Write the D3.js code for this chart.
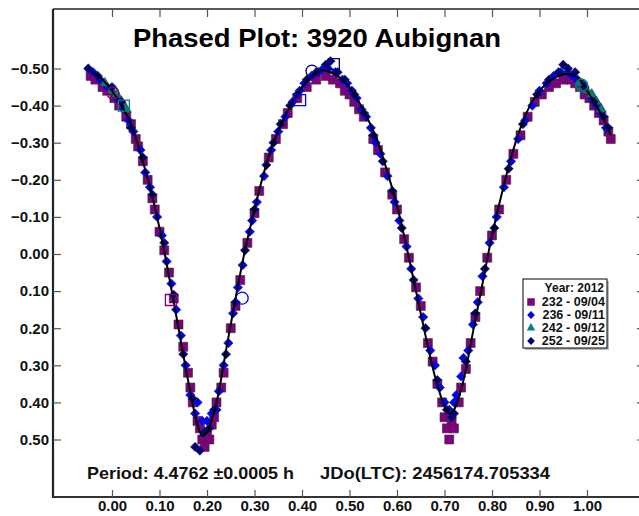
<!DOCTYPE html>
<html><head><meta charset="utf-8">
<script src="https://cdn.jsdelivr.net/npm/d3@7"></script>
<style>
html,body{margin:0;padding:0;background:#fff;}
svg{display:block;font-family:"Liberation Sans",Arial,sans-serif;}
</style></head>
<body>
<svg id="chart" width="639" height="516"></svg>
<script>
const titleText = "Phased Plot: 3920 Aubignan";
const periodText = "Period: 4.4762 \u00b10.0005 h";
const epochText = "JDo(LTC): 2456174.705334";
const xTicks = [0.0,0.1,0.2,0.3,0.4,0.5,0.6,0.7,0.8,0.9,1.0];
const yTicks = [-0.5,-0.4,-0.3,-0.2,-0.1,0.0,0.1,0.2,0.3,0.4,0.5];
const legendTitle = "Year: 2012";
const seriesNames = ["232 - 09/04","236 - 09/11","242 - 09/12","252 - 09/25"];

// fitted Fourier curve: [phase, mag]
const fitCurve = [[-0.045,-0.495],[-0.04,-0.49],[-0.02,-0.47],[0.00,-0.44],[0.02,-0.40],[0.04,-0.35],[0.06,-0.27],[0.08,-0.18],[0.10,-0.07],[0.12,0.06],[0.14,0.20],[0.16,0.34],[0.18,0.46],[0.19,0.49],[0.20,0.48],[0.22,0.40],[0.24,0.26],[0.26,0.12],[0.28,-0.01],[0.30,-0.12],[0.32,-0.22],[0.34,-0.30],[0.36,-0.36],[0.38,-0.41],[0.40,-0.45],[0.42,-0.48],[0.44,-0.495],[0.46,-0.49],[0.48,-0.475],[0.50,-0.45],[0.52,-0.41],[0.54,-0.36],[0.56,-0.30],[0.58,-0.22],[0.60,-0.13],[0.62,-0.02],[0.64,0.10],[0.66,0.22],[0.68,0.33],[0.70,0.41],[0.71,0.43],[0.72,0.42],[0.74,0.34],[0.76,0.21],[0.78,0.08],[0.80,-0.05],[0.82,-0.16],[0.84,-0.26],[0.86,-0.34],[0.88,-0.40],[0.90,-0.44],[0.92,-0.465],[0.94,-0.48],[0.96,-0.485],[0.98,-0.475],[1.00,-0.44],[1.02,-0.40],[1.04,-0.35],[1.05,-0.32]];

// session 232 - 09/04
const s232 = [[-0.045,-0.48],[-0.035,-0.47],[-0.02,-0.45],[-0.01,-0.44],[0.005,-0.42],[0.015,-0.40],[0.03,-0.37],[0.04,-0.35],[0.05,-0.31],[0.055,-0.29],[0.065,-0.25],[0.075,-0.20],[0.085,-0.15],[0.09,-0.12],[0.10,-0.06],[0.11,-0.01],[0.12,0.05],[0.13,0.12],[0.14,0.19],[0.15,0.25],[0.16,0.32],[0.165,0.36],[0.17,0.40],[0.18,0.45],[0.185,0.47],[0.19,0.50],[0.195,0.52],[0.20,0.48],[0.205,0.50],[0.21,0.46],[0.215,0.44],[0.22,0.40],[0.23,0.36],[0.235,0.32],[0.25,0.20],[0.26,0.14],[0.27,0.07],[0.285,-0.03],[0.30,-0.11],[0.31,-0.17],[0.33,-0.26],[0.345,-0.31],[0.36,-0.35],[0.37,-0.38],[0.39,-0.42],[0.41,-0.45],[0.43,-0.47],[0.45,-0.48],[0.465,-0.47],[0.48,-0.46],[0.49,-0.44],[0.50,-0.43],[0.51,-0.41],[0.52,-0.39],[0.53,-0.37],[0.55,-0.31],[0.56,-0.28],[0.575,-0.22],[0.59,-0.16],[0.60,-0.12],[0.615,-0.04],[0.625,0.01],[0.64,0.09],[0.65,0.14],[0.665,0.24],[0.675,0.29],[0.685,0.35],[0.695,0.40],[0.70,0.44],[0.705,0.47],[0.71,0.50],[0.715,0.45],[0.72,0.47],[0.73,0.40],[0.735,0.36],[0.745,0.31],[0.755,0.24],[0.765,0.17],[0.775,0.10],[0.79,0.01],[0.80,-0.05],[0.815,-0.12],[0.83,-0.20],[0.845,-0.27],[0.86,-0.32],[0.875,-0.37],[0.89,-0.41],[0.905,-0.43],[0.92,-0.45],[0.935,-0.46],[0.95,-0.47],[0.965,-0.47],[0.975,-0.46],[0.985,-0.45],[0.995,-0.43],[1.005,-0.42],[1.015,-0.40],[1.025,-0.38],[1.035,-0.36],[1.045,-0.33],[1.05,-0.31]];

// session 236 - 09/11
const s236 = [[-0.04,-0.49],[-0.025,-0.47],[-0.01,-0.45],[0.01,-0.42],[0.025,-0.39],[0.035,-0.36],[0.045,-0.33],[0.06,-0.28],[0.07,-0.22],[0.08,-0.18],[0.095,-0.10],[0.105,-0.05],[0.115,0.02],[0.125,0.08],[0.135,0.15],[0.145,0.22],[0.155,0.30],[0.165,0.38],[0.175,0.43],[0.18,0.40],[0.19,0.45],[0.20,0.45],[0.21,0.43],[0.22,0.42],[0.225,0.37],[0.235,0.30],[0.245,0.24],[0.255,0.16],[0.265,0.09],[0.275,0.03],[0.29,-0.06],[0.295,-0.09],[0.305,-0.14],[0.32,-0.21],[0.335,-0.28],[0.35,-0.33],[0.365,-0.37],[0.38,-0.41],[0.395,-0.44],[0.405,-0.46],[0.42,-0.48],[0.435,-0.49],[0.445,-0.50],[0.455,-0.50],[0.47,-0.49],[0.485,-0.47],[0.495,-0.46],[0.505,-0.44],[0.515,-0.42],[0.525,-0.39],[0.535,-0.37],[0.545,-0.34],[0.555,-0.30],[0.565,-0.27],[0.58,-0.21],[0.595,-0.14],[0.605,-0.09],[0.62,-0.02],[0.63,0.04],[0.645,0.12],[0.655,0.17],[0.67,0.26],[0.68,0.30],[0.69,0.36],[0.70,0.40],[0.71,0.42],[0.72,0.40],[0.725,0.38],[0.735,0.33],[0.74,0.28],[0.75,0.26],[0.76,0.19],[0.77,0.13],[0.78,0.06],[0.795,-0.03],[0.81,-0.10],[0.825,-0.18],[0.84,-0.25],[0.855,-0.31],[0.87,-0.36],[0.885,-0.40],[0.90,-0.44],[0.915,-0.46],[0.93,-0.48],[0.945,-0.49],[0.96,-0.49],[0.97,-0.48],[0.98,-0.47],[0.99,-0.46],[1.01,-0.42],[1.02,-0.40],[1.03,-0.38],[1.04,-0.34]];

// session 242 - 09/12
const s242 = [[-0.015,-0.46],[0.0,-0.44],[0.01,-0.43],[0.02,-0.41],[0.03,-0.39],[0.985,-0.46],[0.99,-0.45],[1.0,-0.44],[1.01,-0.43],[1.02,-0.41],[1.03,-0.39]];

// session 252 - 09/25
const s252 = [[-0.05,-0.50],[-0.03,-0.48],[0.00,-0.45],[0.02,-0.41],[0.04,-0.34],[0.065,-0.26],[0.085,-0.16],[0.11,-0.03],[0.13,0.11],[0.15,0.27],[0.17,0.39],[0.175,0.52],[0.185,0.53],[0.195,0.48],[0.205,0.47],[0.215,0.42],[0.24,0.27],[0.26,0.13],[0.28,-0.01],[0.30,-0.12],[0.325,-0.24],[0.34,-0.30],[0.355,-0.35],[0.375,-0.40],[0.39,-0.43],[0.41,-0.47],[0.43,-0.49],[0.45,-0.51],[0.46,-0.52],[0.475,-0.49],[0.49,-0.47],[0.51,-0.43],[0.53,-0.38],[0.55,-0.32],[0.57,-0.25],[0.59,-0.17],[0.61,-0.07],[0.635,0.07],[0.66,0.20],[0.685,0.34],[0.705,0.42],[0.715,0.44],[0.72,0.43],[0.745,0.29],[0.765,0.16],[0.785,0.04],[0.805,-0.07],[0.835,-0.23],[0.865,-0.35],[0.895,-0.43],[0.92,-0.47],[0.94,-0.49],[0.95,-0.51],[0.96,-0.50],[0.975,-0.49],[0.995,-0.45],[1.015,-0.41],[1.035,-0.37],[1.045,-0.34]];

// open (hollow) marker points: [phase, mag, seriesIndex, shape]
const openMarks = [[0.002,-0.434,0,"circle"],[0.025,-0.40,2,"square"],[0.124,0.124,0,"square"],[0.274,0.119,1,"circle"],[0.396,-0.415,1,"square"],[0.421,-0.493,3,"circle"],[0.467,-0.512,3,"square"],[0.989,-0.455,2,"circle"]];

const seriesData = [s232, s236, s242, s252];
const seriesColors = ["#800080","#0000ff","#008080","#000080"];
const seriesShapes = ["square","diamond","triangle","diamond"];

const svg = d3.select("#chart");
const L = 53, R = 645, T = 9, B = 497;
const x = d3.scaleLinear().domain([0, 1]).range([112, 587]);
const y = d3.scaleLinear().domain([-0.5, 0.5]).range([68.5, 439.5]);

function shapePath(shape, size){
  if (shape === "square") return d3.symbol(d3.symbolSquare, size*size)();
  if (shape === "diamond") return d3.symbol(d3.symbolSquare, size*size)();
  if (shape === "triangle") return d3.symbol(d3.symbolTriangle, size*size*0.55)();
  return d3.symbol(d3.symbolCircle, size*size)();
}
function shapeTransform(shape, px, py){
  return shape === "diamond" ? `translate(${px},${py}) rotate(45)` : `translate(${px},${py})`;
}

// points
const pts = svg.append("g");
seriesData.forEach((data, i) => {
  const shape = seriesShapes[i];
  const size = shape === "diamond" ? 6.6 : 9;
  pts.append("g").selectAll("path").data(data).join("path")
    .attr("d", shapePath(shape, size))
    .attr("transform", d => shapeTransform(shape, x(d[0]), y(d[1])))
    .attr("fill", seriesColors[i])
    .attr("stroke", i === 1 ? "#1a1a8a" : "#333")
    .attr("stroke-width", 0.6);
});

// fit curve
svg.append("path").datum(fitCurve)
  .attr("d", d3.line().x(d => x(d[0])).y(d => y(d[1])).curve(d3.curveCatmullRom))
  .attr("fill", "none").attr("stroke", "#000").attr("stroke-width", 2);

// hollow markers
svg.append("g").selectAll("path").data(openMarks).join("path")
  .attr("d", d => d[3] === "circle" ? d3.symbol(d3.symbolCircle, Math.PI*36)() : d3.symbol(d3.symbolSquare, 121)())
  .attr("transform", d => `translate(${x(d[0])},${y(d[1])})`)
  .attr("fill", "none")
  .attr("stroke", d => seriesColors[d[2]])
  .attr("stroke-width", 1.3);

// frame (right side lies just beyond the visible area)
const frame = svg.append("g");
frame.append("line").attr("x1", L).attr("x2", R).attr("y1", T).attr("y2", T).attr("stroke", "#222").attr("stroke-width", 1.5);
frame.append("line").attr("x1", L).attr("x2", L).attr("y1", T).attr("y2", B+1).attr("stroke", "#222").attr("stroke-width", 2.2);
frame.append("line").attr("x1", L).attr("x2", R).attr("y1", B).attr("y2", B).attr("stroke", "#333").attr("stroke-width", 2);

// axes with inward ticks
const fmt = d3.format(".2f");
const xAxisB = d3.axisBottom(x).tickValues(xTicks).tickSize(-7).tickPadding(4).tickFormat(fmt);
const gx = svg.append("g").attr("transform", `translate(0,${B})`).call(xAxisB);
const xAxisT = d3.axisTop(x).tickValues(xTicks).tickSize(-8).tickFormat("");
const gxt = svg.append("g").attr("transform", `translate(0,${T})`).call(xAxisT);
const yAxisL = d3.axisLeft(y).tickValues(yTicks).tickSize(-8).tickPadding(4).tickFormat(fmt);
const gy = svg.append("g").attr("transform", `translate(${L},0)`).call(yAxisL);
const yAxisR = d3.axisRight(y).tickValues(yTicks).tickSize(-8).tickFormat("");
const gyr = svg.append("g").attr("transform", `translate(${R},0)`).call(yAxisR);
[gx, gxt, gy, gyr].forEach(g => {
  g.select(".domain").remove();
  g.selectAll(".tick line").attr("stroke", "#555").attr("stroke-width", 1.2);
  g.selectAll(".tick text").attr("font-family", "Liberation Sans, Arial, sans-serif")
    .attr("font-size", 15).attr("font-weight", "bold").attr("fill", "#111");
});
gx.selectAll(".tick text").attr("dy", "0.68em");

// title
svg.append("text").attr("x", 133).attr("y", 47)
  .attr("font-size", 25).attr("font-weight", "bold").attr("fill", "#000")
  .attr("textLength", 368).attr("lengthAdjust", "spacingAndGlyphs").text(titleText);

// period/epoch text
svg.append("text").attr("x", 87).attr("y", 479).attr("font-size", 16.5).attr("font-weight", "bold").attr("fill", "#111")
  .attr("textLength", 207).attr("lengthAdjust", "spacingAndGlyphs").text(periodText);
svg.append("text").attr("x", 320).attr("y", 479).attr("font-size", 16.5).attr("font-weight", "bold").attr("fill", "#111")
  .attr("textLength", 230).attr("lengthAdjust", "spacingAndGlyphs").text(epochText);

// legend
const lg = svg.append("g");
const lx = 523, ly = 279, lw = 84, lh = 69;
lg.append("rect").attr("x", lx+2).attr("y", ly+2).attr("width", lw).attr("height", lh).attr("fill", "#bbb");
lg.append("rect").attr("x", lx).attr("y", ly).attr("width", lw).attr("height", lh).attr("fill", "#fff").attr("stroke", "#000").attr("stroke-width", 1);
lg.append("text").attr("x", lx+lw-3).attr("y", ly+13).attr("text-anchor", "end")
  .attr("font-size", 12).attr("font-weight", "bold").attr("fill", "#111").text(legendTitle);
seriesNames.forEach((name, i) => {
  const ry = ly + 27 + i*13;
  const shape = seriesShapes[i];
  lg.append("path").attr("d", shapePath(shape, shape === "diamond" ? 5.5 : 7.5))
    .attr("transform", shapeTransform(shape, lx+8, ry-4))
    .attr("fill", seriesColors[i]);
  lg.append("text").attr("x", lx+lw-2).attr("y", ry).attr("text-anchor", "end")
    .attr("font-size", 12.5).attr("font-weight", "bold").attr("fill", "#111").text(name);
});
</script>
</body></html>
